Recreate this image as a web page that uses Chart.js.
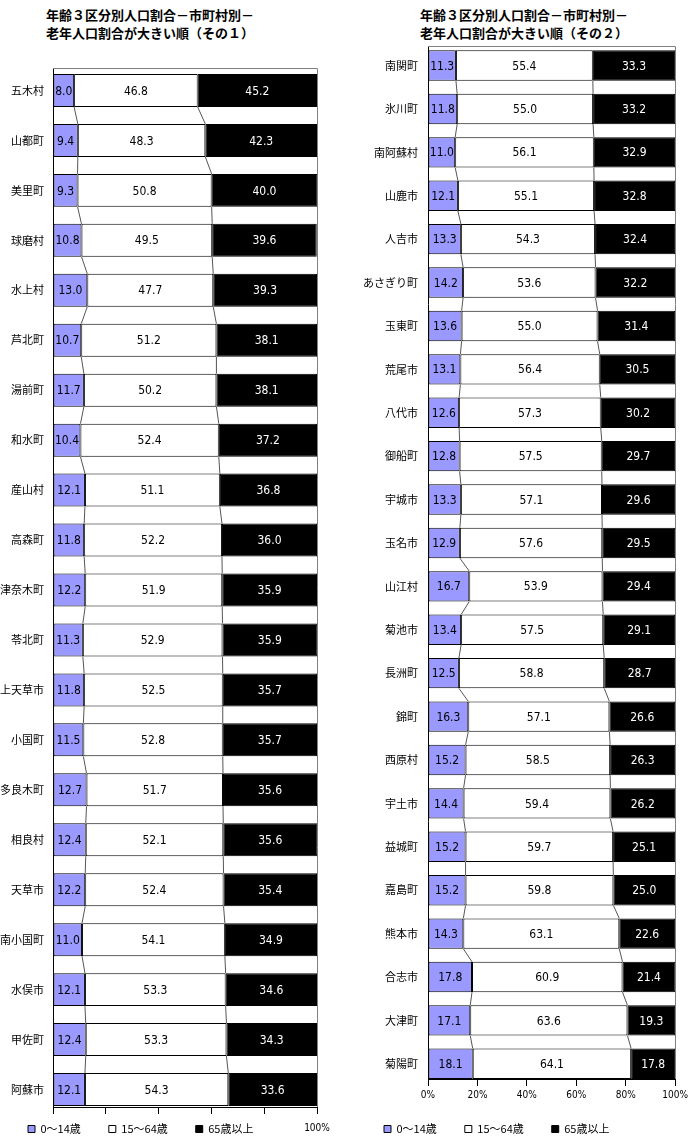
<!DOCTYPE html>
<html><head><meta charset="utf-8">
<script src="https://cdn.jsdelivr.net/npm/chart.js@4"></script>
<style>
html,body{margin:0;padding:0;background:#fff;width:691px;height:1140px;overflow:hidden;position:relative;}
.t{position:absolute;top:6px;font:bold 13px 'Noto Sans CJK JP',sans-serif;line-height:18px;color:#000;white-space:nowrap;}
canvas{position:absolute;top:0;}
</style></head><body>
<div class="t" style="left:46px">年齢３区分別人口割合－市町村別－<br>老年人口割合が大きい順（その１）</div>
<div class="t" style="left:420px">年齢３区分別人口割合－市町村別－<br>老年人口割合が大きい順（その２）</div>
<canvas id="c1" width="345" height="1140" style="left:0"></canvas>
<canvas id="c2" width="346" height="1140" style="left:345px"></canvas>
<script>
// ---- data (part 1) ----
const categories1 = ['五木村','山都町','美里町','球磨村','水上村','芦北町','湯前町','和水町','産山村','高森町','津奈木町','苓北町','上天草市','小国町','多良木町','相良村','天草市','南小国町','水俣市','甲佐町','阿蘇市'];
const young1   = [8.0, 9.4, 9.3, 10.8, 13.0, 10.7, 11.7, 10.4, 12.1, 11.8, 12.2, 11.3, 11.8, 11.5, 12.7, 12.4, 12.2, 11.0, 12.1, 12.4, 12.1];
const working1 = [46.8, 48.3, 50.8, 49.5, 47.7, 51.2, 50.2, 52.4, 51.1, 52.2, 51.9, 52.9, 52.5, 52.8, 51.7, 52.1, 52.4, 54.1, 53.3, 53.3, 54.3];
const elderly1 = [45.2, 42.3, 40.0, 39.6, 39.3, 38.1, 38.1, 37.2, 36.8, 36.0, 35.9, 35.9, 35.7, 35.7, 35.6, 35.6, 35.4, 34.9, 34.6, 34.3, 33.6];
// ---- data (part 2) ----
const categories2 = ['南関町','氷川町','南阿蘇村','山鹿市','人吉市','あさぎり町','玉東町','荒尾市','八代市','御船町','宇城市','玉名市','山江村','菊池市','長洲町','錦町','西原村','宇土市','益城町','嘉島町','熊本市','合志市','大津町','菊陽町'];
const young2   = [11.3, 11.8, 11.0, 12.1, 13.3, 14.2, 13.6, 13.1, 12.6, 12.8, 13.3, 12.9, 16.7, 13.4, 12.5, 16.3, 15.2, 14.4, 15.2, 15.2, 14.3, 17.8, 17.1, 18.1];
const working2 = [55.4, 55.0, 56.1, 55.1, 54.3, 53.6, 55.0, 56.4, 57.3, 57.5, 57.1, 57.6, 53.9, 57.5, 58.8, 57.1, 58.5, 59.4, 59.7, 59.8, 63.1, 60.9, 63.6, 64.1];
const elderly2 = [33.3, 33.2, 32.9, 32.8, 32.4, 32.2, 31.4, 30.5, 30.2, 29.7, 29.6, 29.5, 29.4, 29.1, 28.7, 26.6, 26.3, 26.2, 25.1, 25.0, 22.6, 21.4, 19.3, 17.8];
// ---- series / ticks ----
const seriesNames = ['0～14歳', '15～64歳', '65歳以上'];
const xTickValues = [0, 20, 40, 60, 80, 100];
const xTickLabels1 = ['', '', '', '', '', '100%'];
const xTickLabels2 = ['0%', '20%', '40%', '60%', '80%', '100%'];

const fills = ['#9999FF', '#FFFFFF', '#000000'];
const labelColors = ['#000000', '#000000', '#FFFFFF'];
const numFamily = "'Liberation Sans Narrow','DejaVu Sans Condensed',sans-serif";
const numFont = "12px " + numFamily;
const jpFont = "'Noto Sans CJK JP',sans-serif";

const valueLabels = {
  id: 'valueLabels',
  afterDatasetsDraw(chart) {
    const ctx = chart.ctx;
    ctx.save();
    ctx.font = numFont;
    ctx.textAlign = 'center';
    ctx.textBaseline = 'middle';
    chart.data.datasets.forEach((ds, d) => {
      const meta = chart.getDatasetMeta(d);
      meta.data.forEach((el, i) => {
        const p = el.getProps(['x', 'y', 'base'], true);
        ctx.fillStyle = labelColors[d];
        ctx.fillText(ds.data[i].toFixed(1), (p.x + p.base) / 2, p.y + 1);
      });
    });
    ctx.restore();
  }
};

const seriesLines = {
  id: 'seriesLines',
  afterDatasetsDraw(chart) {
    const ctx = chart.ctx;
    ctx.save();
    ctx.strokeStyle = '#555555';
    ctx.lineWidth = 1;
    [0, 1].forEach(d => {
      const els = chart.getDatasetMeta(d).data;
      for (let i = 0; i < els.length - 1; i++) {
        const a = els[i].getProps(['x', 'y', 'height'], true);
        const b = els[i + 1].getProps(['x', 'y', 'height'], true);
        ctx.beginPath();
        ctx.moveTo(a.x, a.y + a.height / 2);
        ctx.lineTo(b.x, b.y - b.height / 2);
        ctx.stroke();
      }
    });
    ctx.restore();
  }
};

const plotFrame = {
  id: 'plotFrame',
  afterDraw(chart) {
    const {left, right, top, bottom} = chart.chartArea;
    const ctx = chart.ctx;
    ctx.save();
    ctx.strokeStyle = '#808080';
    ctx.lineWidth = 1;
    ctx.beginPath();
    ctx.moveTo(left, Math.round(top) + 0.5);
    ctx.lineTo(Math.round(right) + 0.5, Math.round(top) + 0.5);
    ctx.lineTo(Math.round(right) + 0.5, bottom);
    ctx.stroke();
    ctx.restore();
  }
};

// moves the legend box up so that it shares the axis-label strip (as in the original)
const legendShift = {
  id: 'legendShift',
  afterLayout(chart, args, opts) {
    const L = chart.legend;
    if (L && opts && typeof opts.top === 'number') {
      L.top = opts.top;
      L.height = L.bottom - L.top;
    }
  }
};

function makeChart(id, cats, young, working, elderly, tickLabels, geo) {
  const n = cats.length;
  const series = [young, working, elderly];
  return new Chart(document.getElementById(id), {
    type: 'bar',
    data: {
      labels: cats,
      datasets: series.map((vals, d) => ({
        label: seriesNames[d],
        data: vals,
        backgroundColor: fills[d],
        borderColor: '#000000',
        borderWidth: 1,
        borderSkipped: false,
        categoryPercentage: 1.0,
        barPercentage: geo.barPct
      }))
    },
    options: {
      indexAxis: 'y',
      responsive: false,
      animation: false,
      devicePixelRatio: 1,
      layout: {padding: {top: geo.top, right: geo.right, left: geo.padLeft, bottom: 0}},
      plugins: {
        title: {display: false},
        tooltip: {enabled: false},
        legendShift: {top: 1095.5},
        legend: {
          position: 'bottom',
          align: 'start',
          maxHeight: 1,
          labels: {
            boxWidth: 7, boxHeight: 7, padding: 28,
            color: '#000',
            font: {family: jpFont, size: 11}
          }
        }
      },
      scales: {
        x: {
          type: 'linear', stacked: true, min: 0, max: 100,
          ticks: {
            stepSize: 20, autoSkip: false, maxRotation: 0, padding: geo.tickPad,
            color: '#000',
            font: {family: numFamily, size: 10},
            callback: (v) => tickLabels[xTickValues.indexOf(v)] ?? ''
          },
          grid: {drawOnChartArea: false, drawTicks: true, tickLength: 7, color: '#000'},
          border: {display: true, color: '#000'},
          afterFit: s => { s.height = 1139 - geo.bottom; }
        },
        y: {
          type: 'category', stacked: true, offset: true,
          grid: {display: false, drawTicks: false},
          border: {display: true, color: '#000'},
          ticks: {padding: geo.yPad, autoSkip: false, color: '#000', font: {family: jpFont, size: 11}},
          afterFit: s => { s.width = geo.yWidth; },
          afterBuildTicks: s => { s._startValue = -0.45; s._valueRange = n - 1 + 0.8; }
        }
      }
    },
    plugins: [seriesLines, valueLabels, plotFrame, legendShift]
  });
}

makeChart('c1', categories1, young1, working1, elderly1, xTickLabels1,
  {barPct: 0.66, top: 68, bottom: 1107, right: 28, padLeft: 0, yWidth: 53, yPad: 9, tickPad: 8});
makeChart('c2', categories2, young2, working2, elderly2, xTickLabels2,
  {barPct: 0.70, top: 46, bottom: 1079, right: 15, padLeft: 11, yWidth: 72, yPad: 10, tickPad: 3});
</script>
</body></html>
